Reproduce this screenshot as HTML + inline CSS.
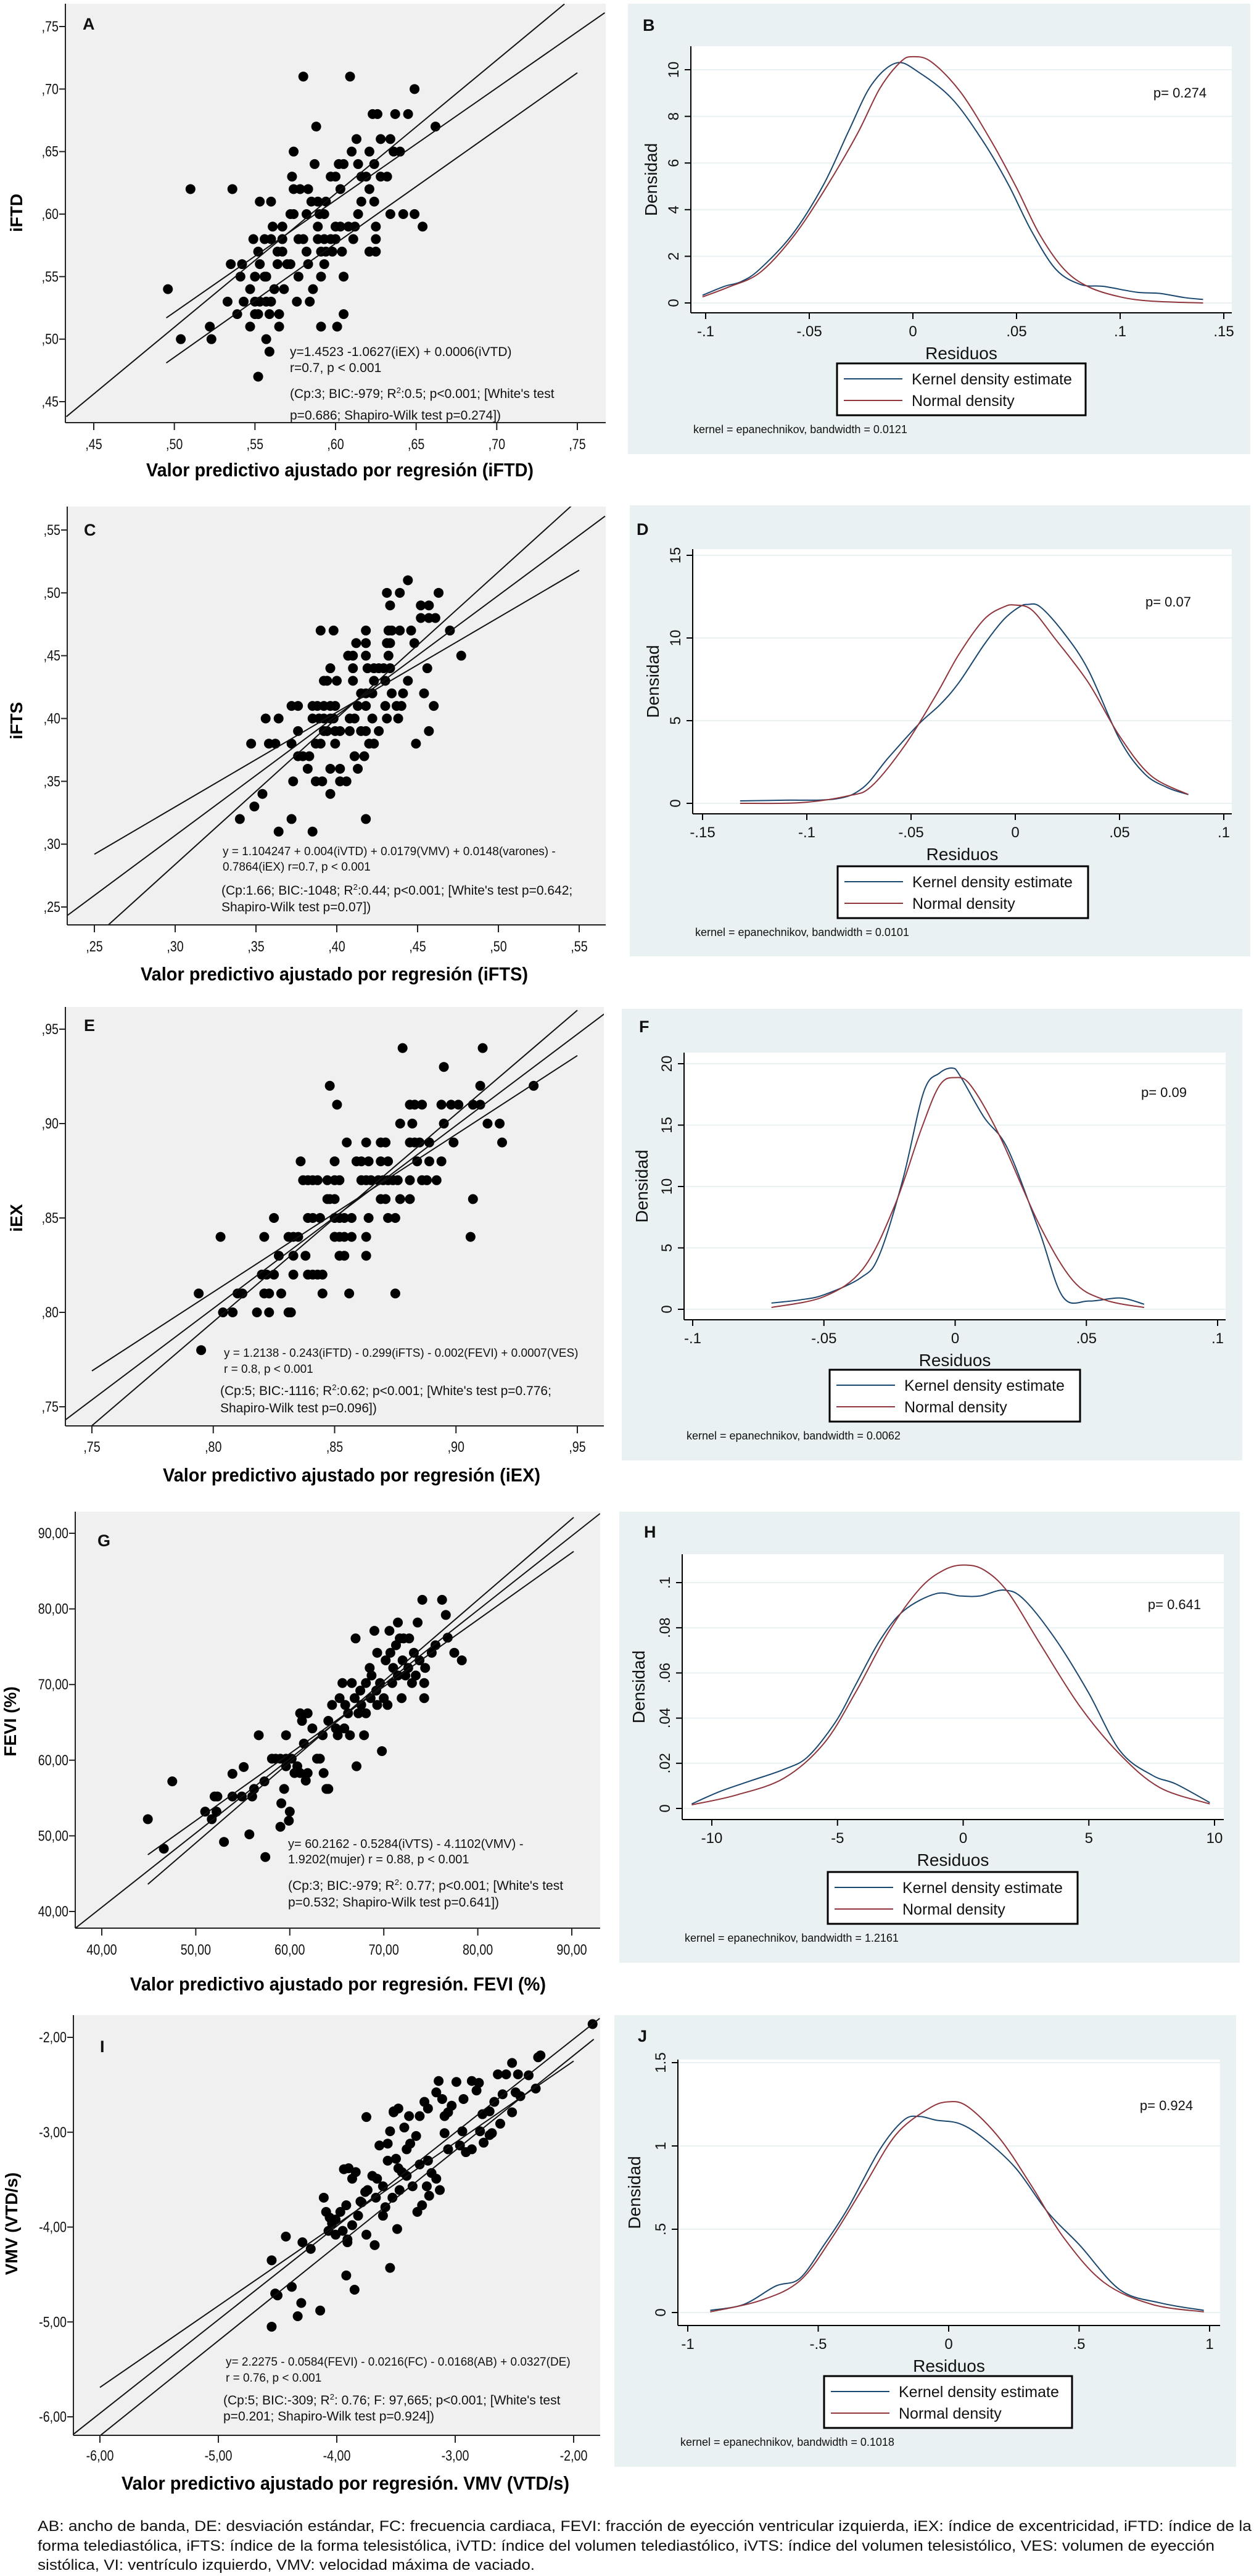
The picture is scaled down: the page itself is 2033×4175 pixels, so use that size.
<!DOCTYPE html>
<html><head><meta charset="utf-8"><style>
html,body{margin:0;padding:0;background:#fff}
svg{display:block}
text{font-family:"Liberation Sans Narrow","Liberation Sans",Arial,sans-serif}
.d text{font-family:"Liberation Sans",Arial,sans-serif}
</style></head><body>
<svg id="fig" width="2033" height="4175" viewBox="0 0 2033 4175" xmlns="http://www.w3.org/2000/svg">
<g id="layer"></g>
<g id="annot" fill="#111">
<g font-size="21">
<text x="470" y="577">y=1.4523 -1.0627(iEX) + 0.0006(iVTD)</text>
<text x="470" y="603">r=0.7, p &lt; 0.001</text>
<text x="470" y="645">(Cp:3; BIC:-979; R<tspan font-size="13" dy="-8">2</tspan><tspan dy="8">:0.5; p&lt;0.001; [White's test</tspan></text>
<text x="470" y="680">p=0.686; Shapiro-Wilk test p=0.274])</text>
</g>
<g font-size="19">
<text x="361" y="1386">y = 1.104247 + 0.004(iVTD) + 0.0179(VMV) + 0.0148(varones) -</text>
<text x="361" y="1411">0.7864(iEX)    r=0.7,  p &lt; 0.001</text>
<text x="359" y="1450" font-size="21">(Cp:1.66; BIC:-1048; R<tspan font-size="13" dy="-8">2</tspan><tspan dy="8">:0.44; p&lt;0.001; [White's test p=0.642;</tspan></text>
<text x="359" y="1477" font-size="21">Shapiro-Wilk test p=0.07])</text>
</g>
<g font-size="19">
<text x="363" y="2199">y = 1.2138 - 0.243(iFTD) - 0.299(iFTS) - 0.002(FEVI) + 0.0007(VES)</text>
<text x="363" y="2225">r = 0.8, p &lt; 0.001</text>
<text x="357" y="2261" font-size="21">(Cp:5; BIC:-1116; R<tspan font-size="13" dy="-8">2</tspan><tspan dy="8">:0.62; p&lt;0.001; [White's test p=0.776;</tspan></text>
<text x="357" y="2289" font-size="21">Shapiro-Wilk test p=0.096])</text>
</g>
<g font-size="20">
<text x="467" y="2995">y= 60.2162 - 0.5284(iVTS) - 4.1102(VMV) -</text>
<text x="467" y="3020">1.9202(mujer) r = 0.88, p &lt; 0.001</text>
<text x="467" y="3063" font-size="21">(Cp:3; BIC:-979; R<tspan font-size="13" dy="-8">2</tspan><tspan dy="8">: 0.77; p&lt;0.001; [White's test</tspan></text>
<text x="467" y="3090" font-size="21">p=0.532; Shapiro-Wilk test p=0.641])</text>
</g>
<g font-size="19">
<text x="366" y="3834">y= 2.2275 - 0.0584(FEVI) - 0.0216(FC) - 0.0168(AB) + 0.0327(DE)</text>
<text x="366" y="3860">r = 0.76, p &lt; 0.001</text>
<text x="362" y="3897" font-size="21">(Cp:5; BIC:-309; R<tspan font-size="13" dy="-8">2</tspan><tspan dy="8">: 0.76; F: 97,665; p&lt;0.001; [White's test</tspan></text>
<text x="362" y="3923" font-size="21">p=0.201; Shapiro-Wilk test p=0.924])</text>
</g>
</g>
<g font-family="Liberation Sans, Arial, sans-serif" font-size="24" fill="#111">
<text x="61" y="4102" textLength="1968" lengthAdjust="spacingAndGlyphs" style="font-family:'Liberation Sans',Arial,sans-serif">AB: ancho de banda, DE: desviación estándar, FC: frecuencia cardiaca, FEVI: fracción de eyección ventricular izquierda, iEX: índice de excentricidad, iFTD: índice de la</text>
<text x="61" y="4134" textLength="1908" lengthAdjust="spacingAndGlyphs" style="font-family:'Liberation Sans',Arial,sans-serif">forma telediastólica, iFTS: índice de la forma telesistólica, iVTD: índice del volumen telediastólico, iVTS: índice del volumen telesistólico, VES: volumen de eyección</text>
<text x="61" y="4165" textLength="806" lengthAdjust="spacingAndGlyphs" style="font-family:'Liberation Sans',Arial,sans-serif">sistólica, VI: ventrículo izquierdo, VMV: velocidad máxima de vaciado.</text>
</g>
</svg>
<script>
// ---------- Panel A data (rows of equal y) ----------
const aLevels=[.71,.70,.68,.67,.66,.65,.64,.63,.62,.61,.60,.59,.58,.57,.56,.55,.54,.53,.52,.51,.50,.49,.47];
const aXs=[[.580,.609],[.649],[.623,.626,.637,.645],[.588,.662],[.613,.628,.634],[.574,.610,.621,.636,.640],
[.587,.602,.605,.614,.624],[.573,.597,.600,.616,.619,.628,.632],[.510,.536,.574,.578,.583,.603,.621],
[.553,.560,.585,.589,.594,.616,.624],[.572,.574,.582,.590,.593,.614,.634,.642,.649],
[.561,.567,.589,.600,.603,.608,.612,.625,.654],[.549,.556,.560,.567,.577,.580,.589,.593,.597,.600,.611,.625],
[.552,.564,.567,.582,.591,.594,.598,.604,.621,.625],[.535,.542,.553,.564,.570,.572,.583,.593],
[.541,.550,.556,.557,.577,.591,.605],[.496,.547,.562,.568,.586],[.533,.543,.550,.553,.557,.560,.576,.584],
[.539,.550,.552,.559,.565,.605],[.522,.547,.565,.591,.601],[.504,.523,.557],[.559],[.552]];
const aTicks=[.45,.50,.55,.60,.65,.70,.75];
const aTickLabels=[",45",",50",",55",",60",",65",",70",",75"];
const aLinesX=[[.433,.742],[.495,.767],[.495,.75]];
const aLinesY=[[.438,.768],[.517,.761],[.481,.713]];
// ---------- Panel C ----------
const cLevels=[.51,.50,.49,.48,.47,.46,.45,.44,.43,.42,.41,.40,.39,.38,.37,.36,.35,.34,.33,.32,.31];
const cXs=[[.444],[.431,.439,.463],[.433,.452,.457],[.452,.457,.461],[.390,.398,.418,.432,.434,.439,.446,.470],
[.412,.418,.431,.433,.448],[.407,.410,.418,.432,.477],[.396,.410,.419,.423,.426,.429,.433,.456],
[.392,.394,.400,.410,.423,.430,.444],[.415,.418,.422,.434,.441,.454],
[.372,.376,.385,.388,.392,.396,.399,.413,.418,.430,.437,.440,.460],
[.356,.364,.385,.389,.392,.396,.398,.408,.411,.422,.431,.438],
[.376,.392,.394,.399,.402,.408,.415,.418,.426,.457],[.347,.358,.362,.372,.387,.390,.399,.420,.423,.449],
[.376,.379,.383,.411,.417],[.382,.396,.402,.413],[.373,.387,.391,.402,.406],[.354,.396],[.349],[.340,.372,.418],[.364,.385]];
const cTicks=[.25,.30,.35,.40,.45,.50,.55];
const cTickLabels=[",25",",30",",35",",40",",45",",50",",55"];
const cLinesX=[[.25,.55],[.233,.566],[.258,.545]];
const cLinesY=[[.292,.518],[.243,.561],[.235,.569]];
// ---------- Panel E ----------
const eLevels=[.94,.93,.92,.91,.90,.89,.88,.87,.86,.85,.84,.83,.82,.81,.80,.78];
const eXs=[[.878,.911],[.895],[.848,.910,.932],[.851,.881,.883,.886,.894,.898,.901,.907,.910],[.877,.882,.895,.913,.918],
[.855,.863,.869,.871,.881,.883,.885,.889,.899,.919],[.836,.850,.859,.861,.864,.869,.872,.884,.889,.894],
[.837,.839,.841,.843,.847,.850,.852,.861,.863,.865,.868,.870,.872,.874,.876,.881,.886,.888,.892],
[.847,.848,.850,.869,.871,.877,.881,.907],[.825,.839,.841,.844,.850,.852,.854,.857,.864,.872,.875],
[.803,.821,.831,.833,.835,.850,.850,.852,.854,.857,.863,.906],[.827,.833,.838,.852,.854,.863],
[.820,.822,.825,.833,.839,.841,.843,.845],[.794,.810,.812,.821,.823,.828,.845,.856,.875],
[.804,.808,.818,.823,.831,.832],[.795]];
const eTicks=[.75,.80,.85,.90,.95];
const eTickLabels=[",75",",80",",85",",90",",95"];
const eLinesX=[[.75,.95],[.739,.961],[.75,.95]];
const eLinesY=[[.769,.936],[.743,.958],[.740,.960]];
// ---------- Panel G ----------
const gX=[44.9,46.6,47.5,51.0,51.7,52.0,52.3,52.2,53.0,53.9,53.9,55.1,54.9,56.0,56.2,57.3,55.7,56.7,57.4,58.1,58.5,59.0,59.1,59.0,59.6,59.4,59.6,59.9,60.0,59.6,60.2,60.5,60.8,61.1,61.1,61.3,61.5,61.7,61.9,61.9,62.4,62.9,63.2,63.6,63.9,64.1,63.5,64.1,64.5,64.9,65.1,65.3,65.6,65.9,65.8,66.2,66.4,66.6,66.9,67.0,67.1,67.3,67.5,67.6,67.9,68.1,68.1,68.5,68.6,68.7,69.0,69.2,69.3,69.3,69.6,69.8,70.0,70.2,70.4,70.6,70.7,70.9,71.0,71.3,71.5,71.5,71.7,71.9,72.0,72.1,72.3,72.6,72.7,73.0,73.2,73.4,73.6,73.8,74.3,74.3,74.4,74.1,76.2,76.6,76.8,77.5,78.3,75.1,75.5];
const gY=[52.2,48.3,57.2,53.2,52.2,55.2,55.2,53.2,49.2,58.2,55.2,59.1,55.2,55.2,56.2,57.2,50.2,63.3,47.2,60.2,60.2,60.2,54.3,51.2,59.2,56.2,60.2,52.0,53.2,63.3,60.2,58.3,59.2,58.3,66.2,65.2,62.2,57.3,58.3,66.2,64.2,60.2,60.2,58.3,56.2,56.2,63.3,65.2,67.3,64.2,63.3,68.2,70.2,67.3,64.2,66.2,63.3,70.2,68.2,76.1,59.2,66.2,69.2,67.3,63.3,70.2,66.2,72.2,68.2,71.2,77.1,69.2,74.2,67.3,70.2,61.2,68.2,73.2,67.3,77.1,74.2,70.2,72.2,75.2,71.2,78.2,76.1,68.2,73.2,76.1,71.2,72.2,76.1,70.2,74.2,71.2,78.2,73.2,70.2,68.2,72.2,81.2,81.2,79.2,76.2,74.2,73.2,74.2,75.2];
const gTicks=[40,50,60,70,80,90];
const gTickLabels=["40,00","50,00","60,00","70,00","80,00","90,00"];
const gLinesX=[[44.9,90.2],[37.2,93.0],[44.9,90.2]];
const gLinesY=[[47.5,87.6],[37.8,92.6],[43.6,92.1]];
// ---------- Panel I ----------
const iX=[-1.84,-2.30,-2.28,-2.52,-2.32,-2.64,-2.57,-2.47,-2.38,-2.49,-2.45,-2.52,-2.60,-2.67,-2.71,-2.77,-2.86,-2.80,-2.82,-2.93,-2.99,-3.03,-3.06,-3.14,-3.16,-3.23,-3.11,-3.09,-3.26,-3.30,-3.39,-3.43,-3.48,-3.52,-3.55,-3.57,-3.33,-3.38,-3.41,-3.50,-3.48,-3.45,-3.41,-3.36,-3.30,-3.23,-3.20,-3.16,-3.13,-3.09,-3.06,-2.96,-2.94,-2.91,-2.86,-2.76,-2.79,-2.71,-2.69,-2.62,-3.24,-3.22,-3.28,-3.32,-3.47,-3.53,-3.59,-3.61,-3.66,-3.70,-3.74,-3.76,-3.80,-3.84,-3.87,-3.90,-3.92,-3.94,-3.97,-4.01,-4.04,-4.07,-4.11,-4.09,-4.06,-4.01,-3.95,-3.87,-3.91,-3.82,-3.79,-3.75,-3.68,-3.49,-3.75,-3.52,-3.64,-3.57,-3.61,-3.67,-4.55,-4.43,-4.29,-4.22,-3.91,-3.92,-3.85,-4.38,-4.52,-4.50,-4.30,-4.14,-4.33,-4.55,-3.55];
const iY=[-1.86,-2.21,-2.19,-2.27,-2.54,-2.39,-2.39,-2.39,-2.40,-2.58,-2.62,-2.79,-2.60,-2.68,-2.78,-2.81,-2.46,-2.48,-2.56,-2.65,-2.47,-2.72,-2.79,-2.46,-2.58,-2.75,-2.65,-2.83,-2.68,-2.83,-2.83,-2.95,-2.75,-2.78,-2.99,-3.12,-3.04,-3.12,-3.18,-3.28,-3.38,-3.42,-3.46,-3.57,-3.34,-3.30,-3.43,-3.49,-3.61,-3.01,-3.18,-3.14,-2.99,-3.21,-3.18,-3.11,-2.99,-3.03,-3.01,-2.91,-3.57,-3.67,-3.77,-3.84,-3.61,-3.69,-3.79,-3.88,-3.49,-3.46,-3.61,-3.63,-3.73,-3.42,-3.49,-3.38,-3.77,-3.39,-3.84,-3.92,-3.96,-4.04,-3.69,-3.84,-3.90,-4.08,-4.04,-3.98,-4.13,-3.88,-3.74,-4.08,-4.19,-4.02,-2.84,-2.79,-3.14,-3.30,-3.57,-3.69,-4.35,-4.10,-4.16,-4.23,-4.16,-4.51,-4.66,-4.63,-4.70,-4.72,-4.80,-4.88,-4.94,-5.05,-4.43];
const iTicks=[-6,-5,-4,-3,-2];
const iTickLabels=["-6,00","-5,00","-4,00","-3,00","-2,00"];
const iLinesX=[[-6,-2],[-6.22,-1.78],[-6,-1.83]];
const iLinesY=[[-5.69,-2.25],[-6.18,-1.80],[-6.20,-2.02]];
// ---------- Density panels ----------
const bKX=[-.1015,-.091,-.083,-.074,-.058,-.043,-.031,-.020,-.008,.003,.019,.034,.046,.057,.069,.081,.092,.108,.119,.131,.140];
const bKY=[.33,.71,.91,1.44,2.96,5.09,7.37,9.35,10.29,9.88,8.74,6.91,5.09,3.12,1.44,.79,.71,.46,.41,.23,.15];
const bNX=[-.1015,-.089,-.074,-.058,-.043,-.027,-.016,-.006,0,.009,.023,.038,.050,.061,.073,.085,.100,.115,.140];
const bNY=[.26,.68,1.29,2.81,4.79,7.22,9.19,10.33,10.56,10.33,9.04,6.91,4.94,2.96,1.44,.68,.26,.08,0];
const bXT=[-.1,-.05,0,.05,.1,.15], bXL=["-.1","-.05","0",".05",".1",".15"];
const bYT=[0,2,4,6,8,10], bYL=["0","2","4","6","8","10"];
const dKX=[-.132,-.111,-.086,-.073,-.061,-.046,-.036,-.027,-.015,-.0055,.002,.006,.012,.023,.035,.050,.062,.073,.083];
const dKY=[.15,.19,.27,.95,2.74,4.83,5.98,7.31,9.59,11.12,11.88,12.03,11.88,10.35,8.07,3.88,1.79,.95,.53];
const dNX=[-.132,-.103,-.080,-.069,-.053,-.038,-.027,-.015,-.0055,0,.008,.019,.035,.050,.065,.083];
const dNY=[0,.04,.46,1.03,3.5,6.55,9.02,11.12,11.88,11.99,11.69,9.97,7.31,4.07,1.68,.53];
const dXT=[-.15,-.1,-.05,0,.05,.1], dXL=["-.15","-.1","-.05","0",".05",".1"];
const dYT=[0,5,10,15], dYL=["0","5","10","15"];
const fKX=[-.070,-.059,-.050,-.036,-.029,-.020,-.012,-.006,-.001,.002,.011,.020,.032,.041,.051,.063,.072];
const fKY=[.51,.77,1.18,2.56,4.36,10.51,17.69,19.23,19.64,18.97,15.64,13.08,6.41,1.03,.67,.92,.41];
const fNX=[-.070,-.050,-.035,-.023,-.013,-.006,0,.006,.017,.032,.045,.057,.072];
const fNY=[.15,1.03,3.33,8.46,14.62,18.21,18.87,18.21,14.1,6.92,2.31,.77,.15];
const fXT=[-.1,-.05,0,.05,.1], fXL=["-.1","-.05","0",".05",".1"];
const fYT=[0,5,10,15,20], fYL=["0","5","10","15","20"];
const hKX=[-10.8,-9.68,-8.41,-7.13,-6.18,-5.06,-4.27,-3.31,-2.36,-1.08,-.13,.67,1.63,2.42,3.70,4.97,6.24,7.52,8.47,9.81];
const hKY=[.002,.0075,.0124,.0173,.0229,.0386,.0549,.0745,.0876,.0951,.0941,.0941,.0967,.0925,.0745,.0516,.0255,.0147,.0108,.0026];
const hNX=[-10.8,-9.04,-7.13,-5.54,-4.27,-2.99,-1.72,-.76,.03,.83,1.78,3.06,4.65,6.24,7.83,9.81];
const hNY=[.0016,.0059,.0134,.0288,.0516,.0778,.0974,.1056,.1078,.1056,.0958,.0729,.0451,.0239,.0092,.002];
const hXT=[-10,-5,0,5,10], hXL=["-10","-5","0","5","10"];
const hYT=[0,.02,.04,.06,.08,.1], hYL=["0",".02",".04",".06",".08",".1"];
const jKX=[-.914,-.785,-.663,-.571,-.479,-.387,-.264,-.172,-.111,-.049,.043,.135,.257,.380,.503,.656,.810,.978];
const jKY=[.013,.049,.159,.204,.403,.624,.978,1.155,1.177,1.155,1.133,1.044,.867,.602,.403,.137,.058,.013];
const jNX=[-.914,-.724,-.571,-.448,-.325,-.203,-.080,-.003,.074,.196,.319,.442,.595,.779,.978];
const jNY=[.004,.071,.190,.447,.757,1.066,1.221,1.265,1.235,1.044,.757,.447,.181,.049,.004];
const jXT=[-1,-.5,0,.5,1], jXL=["-1","-.5","0",".5","1"];
const jYT=[0,.5,1,1.5], jYL=["0",".5","1","1.5"];

const NS="http://www.w3.org/2000/svg";
const root=document.getElementById('layer');
function mk(tag,attrs,parent){const e=document.createElementNS(NS,tag);for(const k in attrs)e.setAttribute(k,attrs[k]);(parent||root).appendChild(e);return e;}
function lin(d0,d1,p0,p1){return v=>p0+(v-d0)/(d1-d0)*(p1-p0);}
function flat(levels,xs){const X=[],Y=[];levels.forEach((l,i)=>xs[i].forEach(x=>{X.push(x);Y.push(l);}));return [X,Y];}
function smooth(P){
  let d='M'+P[0][0]+','+P[0][1];
  for(let i=0;i<P.length-1;i++){
    const p0=P[Math.max(0,i-1)],p1=P[i],p2=P[i+1],p3=P[Math.min(P.length-1,i+2)];
    const c1x=p1[0]+(p2[0]-p0[0])/6,c1y=p1[1]+(p2[1]-p0[1])/6;
    const c2x=p2[0]-(p3[0]-p1[0])/6,c2y=p2[1]-(p3[1]-p1[1])/6;
    d+=' C'+c1x+','+c1y+' '+c2x+','+c2y+' '+p2[0]+','+p2[1];
  }
  return d;
}

let clipN=0;
function scatter(c,X,Y,ticks,labels,LX,LY){
  const g=mk('g',{});
  
  
  const bg=mk('rect',{x:c.l,y:c.t,width:c.r-c.l,height:c.b-c.t,fill:'#f0f0f0'},g);
  
  
  const id='clip'+(clipN++);
  const cp=mk('clipPath',{id:id},g);mk('rect',{x:c.l,y:c.t,width:c.r-c.l,height:c.b-c.t},cp);
  const sx=lin(ticks[0],ticks[ticks.length-1],c.x0,c.x1), sy=lin(ticks[0],ticks[ticks.length-1],c.y0,c.y1);
  const pg=mk('g',{'clip-path':'url(#'+id+')'},g);
  X.forEach((x,i)=>{const d=mk('circle',{cx:sx(x),cy:sy(Y[i]),r:8,fill:'#000'},pg);
    
    });
  LX.forEach((lx,i)=>{const l=mk('line',{x1:sx(lx[0]),y1:sy(LY[i][0]),x2:sx(lx[1]),y2:sy(LY[i][1]),stroke:'#111','stroke-width':2},pg);
    
    });
  const ax=mk('line',{x1:c.l,y1:c.b,x2:c.r,y2:c.b,stroke:'#222','stroke-width':2},g);
  
  
  const ay=mk('line',{x1:c.l,y1:c.t,x2:c.l,y2:c.b,stroke:'#222','stroke-width':2},g);
  
  
  ticks.forEach((t,i)=>{
    mk('line',{x1:sx(t),y1:c.b,x2:sx(t),y2:c.b+12,stroke:'#222','stroke-width':2},g);
    const tx=mk('text',{x:0,y:0,'text-anchor':'middle','font-size':24,fill:'#111',transform:'translate('+sx(t)+','+c.xlab+') scale(0.82,1)'},g);tx.textContent=labels[i];
    
    
    mk('line',{x1:c.l-10,y1:sy(t),x2:c.l,y2:sy(t),stroke:'#222','stroke-width':2},g);
    const ty=mk('text',{x:0,y:0,'text-anchor':'end','font-size':24,fill:'#111',transform:'translate('+(c.l-11)+','+(sy(t)+8)+') scale(0.82,1)'},g);ty.textContent=labels[i];
    
    
  });
  const let_=mk('text',{x:c.lx,y:c.ly,'font-size':27,'font-weight':'bold',fill:'#111'},g);let_.textContent=c.letter;
  
  
  const tt=mk('text',{x:c.tx,y:c.ty,'text-anchor':'middle','font-size':31,'font-weight':'bold',fill:'#000',textLength:c.tw,lengthAdjust:'spacingAndGlyphs'},g);tt.textContent=c.title;
  
  
  const yt=mk('text',{x:0,y:0,'text-anchor':'middle','font-size':28,'font-weight':'bold',fill:'#000',transform:'translate('+c.yx+','+c.yy+') rotate(-90)',style:"font-family:'Liberation Sans',Arial,sans-serif"},g);yt.textContent=c.ytitle;
  
  
}

function density(c,KX,KY,NX,NY,XT,XL,YT,YL){
  const g=mk('g',{class:'d'});
  
  
  const bg=mk('rect',{x:c.bl,y:c.bt,width:c.br-c.bl,height:c.bb-c.bt,fill:'#eaf1f3'},g);
  
  
  mk('rect',{x:c.l,y:c.t,width:c.r-c.l,height:c.b-c.t,fill:'#fff'},g);
  const sx=lin(XT[0],XT[XT.length-1],c.x0,c.x1), sy=lin(YT[0],YT[YT.length-1],c.y0,c.y1);
  YT.forEach((t,i)=>{
    const gl=mk('line',{x1:c.l,y1:sy(t),x2:c.r,y2:sy(t),stroke:'#eaf1f3','stroke-width':2},g);
    
    
    mk('line',{x1:c.l-10,y1:sy(t),x2:c.l,y2:sy(t),stroke:'#000','stroke-width':2},g);
    const ty=mk('text',{x:0,y:0,'text-anchor':'middle','font-size':24,fill:'#111',transform:'translate('+(c.l-20)+','+sy(t)+') rotate(-90)'},g);ty.textContent=YL[i];
    
    
  });
  XT.forEach((t,i)=>{
    mk('line',{x1:sx(t),y1:c.b,x2:sx(t),y2:c.b+10,stroke:'#000','stroke-width':2},g);
    const tx=mk('text',{x:sx(t),y:c.b+38,'text-anchor':'middle','font-size':24,fill:'#111'},g);tx.textContent=XL[i];
    
    
  });
  mk('line',{x1:c.l,y1:c.b,x2:c.r,y2:c.b,stroke:'#000','stroke-width':2},g);
  mk('line',{x1:c.l,y1:c.t,x2:c.l,y2:c.b,stroke:'#000','stroke-width':2},g);
  const pk=mk('path',{d:smooth(KX.map((x,i)=>[sx(x),sy(KY[i])])),fill:'none',stroke:'#1a476f','stroke-width':2},g);
  
  
  const pn=mk('path',{d:smooth(NX.map((x,i)=>[sx(x),sy(NY[i])])),fill:'none',stroke:'#90353b','stroke-width':2},g);
  
  
  const let_=mk('text',{x:c.lx,y:c.ly,'font-size':27,'font-weight':'bold',fill:'#111',style:"font-family:'Liberation Sans Narrow','Liberation Sans',sans-serif"},g);let_.textContent=c.letter;
  
  
  const pv=mk('text',{x:c.px,y:c.py,'text-anchor':'middle','font-size':22,fill:'#111',style:"font-family:'Liberation Sans Narrow','Liberation Sans',sans-serif"},g);pv.textContent=c.p;
  
  
  const rx=mk('text',{x:(c.l+c.r)/2,y:c.b+75,'text-anchor':'middle','font-size':28,fill:'#111'},g);rx.textContent='Residuos';
  
  
  const ry=mk('text',{x:0,y:0,'text-anchor':'middle','font-size':28,fill:'#111',transform:'translate('+c.dx+','+(c.t+c.b)/2+') rotate(-90)'},g);ry.textContent='Densidad';
  
  
  const lg=mk('g',{},g);
  
  
  mk('rect',{x:c.gl,y:c.gt,width:c.gw,height:84,fill:'#fff',stroke:'#000','stroke-width':3},lg);
  mk('line',{x1:c.gl+11,y1:c.gt+25,x2:c.gl+106,y2:c.gt+25,stroke:'#1a476f','stroke-width':2},lg);
  mk('line',{x1:c.gl+11,y1:c.gt+60,x2:c.gl+106,y2:c.gt+60,stroke:'#90353b','stroke-width':2},lg);
  const l1=mk('text',{x:c.gl+121,y:c.gt+34,'font-size':25,fill:'#111'},lg);l1.textContent='Kernel density estimate';
  
  
  const l2=mk('text',{x:c.gl+121,y:c.gt+69,'font-size':25,fill:'#111'},lg);l2.textContent='Normal density';
  
  
  const kn=mk('text',{x:c.l+4,y:c.gt+113,'font-size':18,fill:'#111'},g);kn.textContent='kernel = epanechnikov, bandwidth = '+c.bw;
  
  
}

let A=flat(aLevels,aXs), C=flat(cLevels,cXs), E=flat(eLevels,eXs);
scatter({id:'a',l:106,r:982,t:6,b:685,x0:152,x1:936,y0:651,y1:43,xlab:728,lx:134,ly:48,letter:'A',tx:551,ty:772,tw:628,title:'Valor predictivo ajustado por regresión (iFTD)',yx:36,yy:345,ytitle:'iFTD'},A[0],A[1],aTicks,aTickLabels,aLinesX,aLinesY);
scatter({id:'c',l:109,r:982,t:821,b:1499,x0:153,x1:939,y0:1470,y1:859,xlab:1542,lx:136,ly:868,letter:'C',tx:542,ty:1589,tw:628,title:'Valor predictivo ajustado por regresión (iFTS)',yx:36,yy:1168,ytitle:'iFTS'},C[0],C[1],cTicks,cTickLabels,cLinesX,cLinesY);
scatter({id:'e',l:106,r:979,t:1632,b:2311,x0:149,x1:936,y0:2280,y1:1668,xlab:2353,lx:136,ly:1671,letter:'E',tx:570,ty:2401,tw:612,title:'Valor predictivo ajustado por regresión (iEX)',yx:36,yy:1974,ytitle:'iEX'},E[0],E[1],eTicks,eTickLabels,eLinesX,eLinesY);
scatter({id:'g',l:122,r:973,t:2450,b:3125,x0:165,x1:927,y0:3098,y1:2485,xlab:3168,lx:158,ly:2506,letter:'G',tx:548,ty:3226,tw:674,title:'Valor predictivo ajustado por regresión. FEVI (%)',yx:26,yy:2790,ytitle:'FEVI (%)'},gX,gY,gTicks,gTickLabels,gLinesX,gLinesY);
scatter({id:'i',l:119,r:973,t:3266,b:3947,x0:162,x1:930,y0:3917,y1:3302,xlab:3988,lx:162,ly:3326,letter:'I',tx:560,ty:4035,tw:726,title:'Valor predictivo ajustado por regresión. VMV (VTD/s)',yx:28,yy:3604,ytitle:'VMV (VTD/s)'},iX,iY,iTicks,iTickLabels,iLinesX,iLinesY);

density({id:'b',bl:1018,br:2027,bt:6,bb:736,l:1120,r:1997,t:75,b:507,x0:1144,x1:1984,y0:491,y1:113,lx:1042,ly:50,letter:'B',px:1913,py:158,p:'p= 0.274',dx:1065,gl:1357,gt:589,gw:403,bw:'0.0121'},bKX,bKY,bNX,bNY,bXT,bXL,bYT,bYL);
density({id:'d',bl:1021,br:2027,bt:819,bb:1550,l:1123,r:1997,t:890,b:1319,x0:1139,x1:1984,y0:1302,y1:900,lx:1032,ly:867,letter:'D',px:1894,py:983,p:'p= 0.07',dx:1068,gl:1358,gt:1404,gw:406,bw:'0.0101'},dKX,dKY,dNX,dNY,dXT,dXL,dYT,dYL);
density({id:'f',bl:1008,br:2014,bt:1635,bb:2367,l:1109,r:1987,t:1706,b:2139,x0:1123,x1:1974,y0:2122,y1:1724,lx:1036,ly:1673,letter:'F',px:1887,py:1778,p:'p= 0.09',dx:1050,gl:1345,gt:2220,gw:406,bw:'0.0062'},fKX,fKY,fNX,fNY,fXT,fXL,fYT,fYL);
density({id:'h',bl:1004,br:2010,bt:2450,bb:3181,l:1106,r:1984,t:2519,b:2949,x0:1154,x1:1969,y0:2931,y1:2565,lx:1044,ly:2492,letter:'H',px:1904,py:2608,p:'p= 0.641',dx:1045,gl:1342,gt:3034,gw:405,bw:'1.2161'},hKX,hKY,hNX,hNY,hXT,hXL,hYT,hYL);
density({id:'j',bl:996,br:2004,bt:3266,bb:3998,l:1099,r:1978,t:3338,b:3769,x0:1115,x1:1961,y0:3748,y1:3343,lx:1034,ly:3309,letter:'J',px:1891,py:3420,p:'p= 0.924',dx:1038,gl:1336,gt:3851,gw:402,bw:'0.1018'},jKX,jKY,jNX,jNY,jXT,jXL,jYT,jYL);
document.getElementById('fig').appendChild(document.getElementById('annot'));
</script>
</body></html>
